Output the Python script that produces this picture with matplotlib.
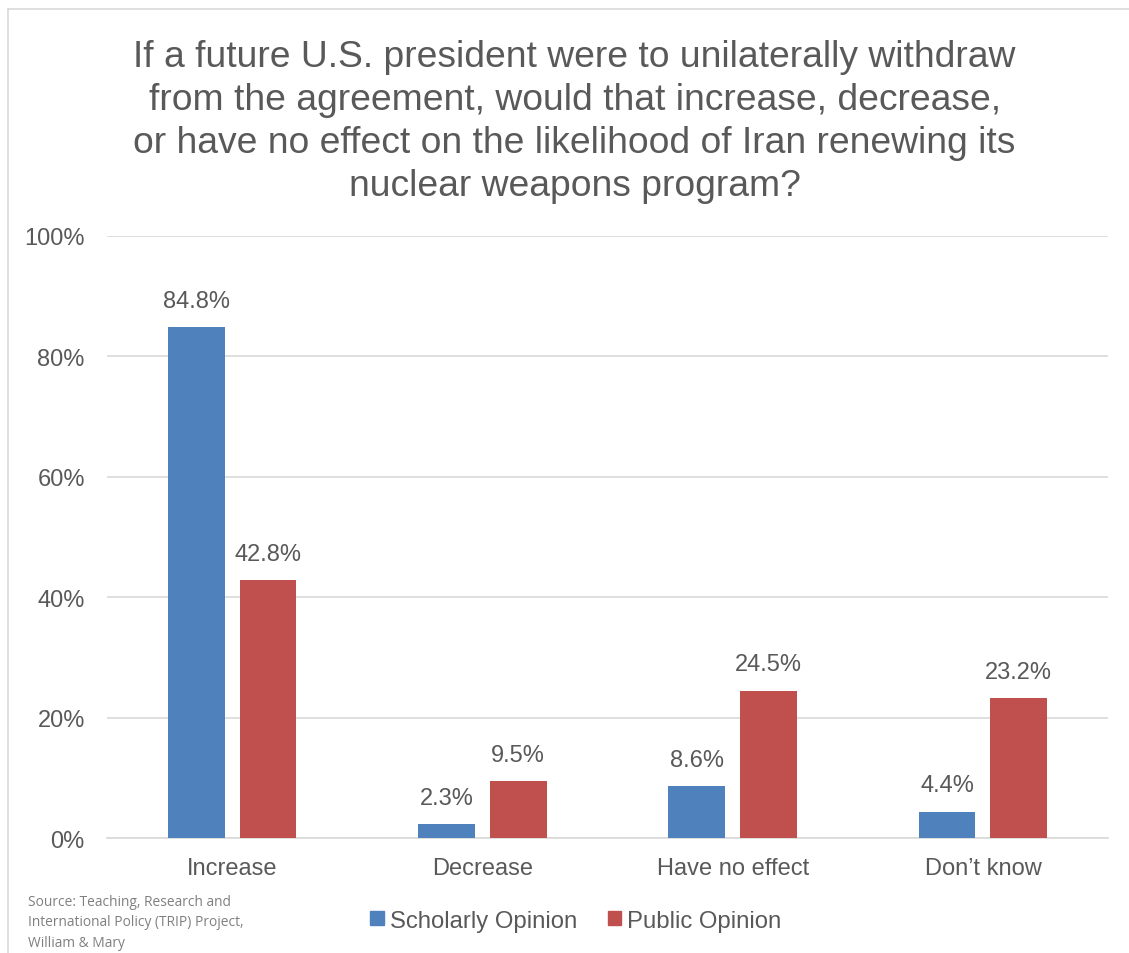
import numpy as np
import matplotlib
matplotlib.use("Agg")
import matplotlib.pyplot as plt
from matplotlib.lines import Line2D
from matplotlib.patches import Patch

# data
categories = ["Increase", "Decrease", "Have no effect", "Don\u2019t know"]
scholarly = [84.8, 2.3, 8.6, 4.4]
public = [42.8, 9.5, 24.5, 23.2]
series_names = ["Scholarly Opinion", "Public Opinion"]
yticks = [0, 20, 40, 60, 80, 100]

title = ("If a future U.S. president were to unilaterally withdraw\n"
         "from the agreement, would that increase, decrease,\n"
         "or have no effect on the likelihood of Iran renewing its\n"
         "nuclear weapons program?")
source = "Source: Teaching, Research and\nInternational Policy (TRIP) Project,\nWilliam & Mary"

plt.rcParams['font.family'] = ['Liberation Sans', 'DejaVu Sans']
txt = '#595959'
blue = '#4F81BD'
red = '#C0504D'

fig = plt.figure(figsize=(11.29, 9.54), dpi=100)
ax = fig.add_axes([0.0948, 0.1205, 0.8866, 0.6311])

x = np.arange(len(categories))
w = 0.227
gap = 0.06
b1 = ax.bar(x - (w + gap) / 2, scholarly, w, color=blue, zorder=3)
b2 = ax.bar(x + (w + gap) / 2, public, w, color=red, zorder=3)

for bars, vals in ((b1, scholarly), (b2, public)):
    for b, v in zip(bars, vals):
        ax.annotate(f"{v:.1f}%", (b.get_x() + b.get_width() / 2, v),
                    xytext=(0, 11), textcoords='offset points',
                    ha='center', va='bottom', fontsize=17, color=txt)

ax.set_xlim(-0.5, len(categories) - 0.5)
ax.set_ylim(0, 100)
ax.set_yticks(yticks)
ax.set_yticklabels([f"{t}%" for t in yticks])
ax.set_xticks(x)
ax.set_xticklabels(categories)
ax.tick_params(axis='both', length=0, labelsize=17, colors=txt)
ax.tick_params(axis='y', pad=16)
ax.tick_params(axis='x', pad=14)
ax.grid(axis='y', color='#D9D9D9', linewidth=1.2, zorder=0)
for s in ['top', 'right', 'left']:
    ax.spines[s].set_visible(False)
ax.spines['bottom'].set_color('#D9D9D9')
ax.spines['bottom'].set_linewidth(1.2)

fig.text(0.509, 0.958, title, ha='center', va='top', fontsize=26.8,
         color=txt, linespacing=1.29)

handles = [Patch(color=blue), Patch(color=red)]
fig.legend(handles, series_names, loc='center', bbox_to_anchor=(0.51, 0.034),
           ncol=2, frameon=False, fontsize=17.2, labelcolor=txt,
           handlelength=0.55, handleheight=0.55, handletextpad=0.25,
           columnspacing=1.3)

fig.text(0.025, 0.062, source, ha='left', va='top', fontsize=9.9,
         color='#7F7F7F', family=['Open Sans', 'DejaVu Sans'], linespacing=1.5)

# outer frame (top and left edges)
fig.add_artist(Line2D([0.007, 1.0], [0.9895, 0.9895], color='#D9D9D9', lw=1.2))
fig.add_artist(Line2D([0.007, 0.007], [0.0, 0.9895], color='#D9D9D9', lw=1.2))

fig.savefig("out.png", dpi=100, facecolor='white')
